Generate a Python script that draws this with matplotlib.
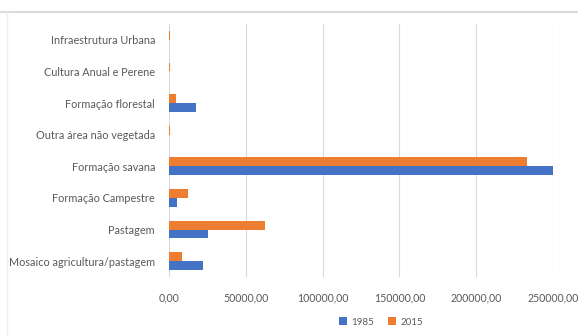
import numpy as np
import matplotlib.pyplot as plt
from matplotlib.lines import Line2D

# Land cover classes (top to bottom as in the chart)
categories = [
    "Infraestrutura Urbana",
    "Cultura Anual e Perene",
    "Formação florestal",
    "Outra área não vegetada",
    "Formação savana",
    "Formação Campestre",
    "Pastagem",
    "Mosaico agricultura/pastagem",
]
area_1985 = [150, 300, 17400, 300, 250000, 5400, 25600, 22000]
area_2015 = [700, 400, 4800, 400, 232800, 12200, 62400, 8500]

plt.rcParams["font.family"] = ["Lato", "DejaVu Sans"]
text_color = "#595959"

fig = plt.figure(figsize=(5.78, 3.36), dpi=100)
ax = fig.add_axes([169 / 578, 1 - 277 / 336, 384 / 578, 253 / 336])

y = np.arange(len(categories))[::-1]
h = 0.28
ax.barh(y - h / 2, area_1985, height=h, color="#4472C4", label="1985")
ax.barh(y + h / 2, area_2015, height=h, color="#ED7D31", label="2015")

ax.set_xlim(0, 250000)
ax.set_ylim(-0.5, len(categories) - 0.5)
ax.set_yticks(y)
ax.set_yticklabels(categories, fontsize=7.8, color=text_color)
xt = np.arange(0, 250001, 50000)
ax.set_xticks(xt)
ax.set_xticklabels([f"{v:.2f}".replace(".", ",") for v in xt], fontsize=7.6, color=text_color)
ax.tick_params(axis="y", length=0, pad=10)
ax.tick_params(axis="x", length=0, pad=11)
ax.grid(axis="x", color="#d9d9d9", linewidth=0.8)
ax.set_axisbelow(True)
for s in ["top", "right", "bottom", "left"]:
    ax.spines[s].set_visible(False)

fig.legend(loc="center", bbox_to_anchor=(381 / 578, 1 - 322 / 336), ncol=2,
           frameon=False, fontsize=7, labelcolor=text_color,
           handlelength=0.8, handleheight=0.8, columnspacing=1.5, handletextpad=0.4)

# chart frame lines
fig.add_artist(Line2D([0, 1], [1 - 12 / 336] * 2, color="#dcdcdc", linewidth=1.5))
fig.add_artist(Line2D([7 / 578] * 2, [0, 1 - 12 / 336], color="#eeeeee", linewidth=1))

fig.savefig("out.png", dpi=100)
